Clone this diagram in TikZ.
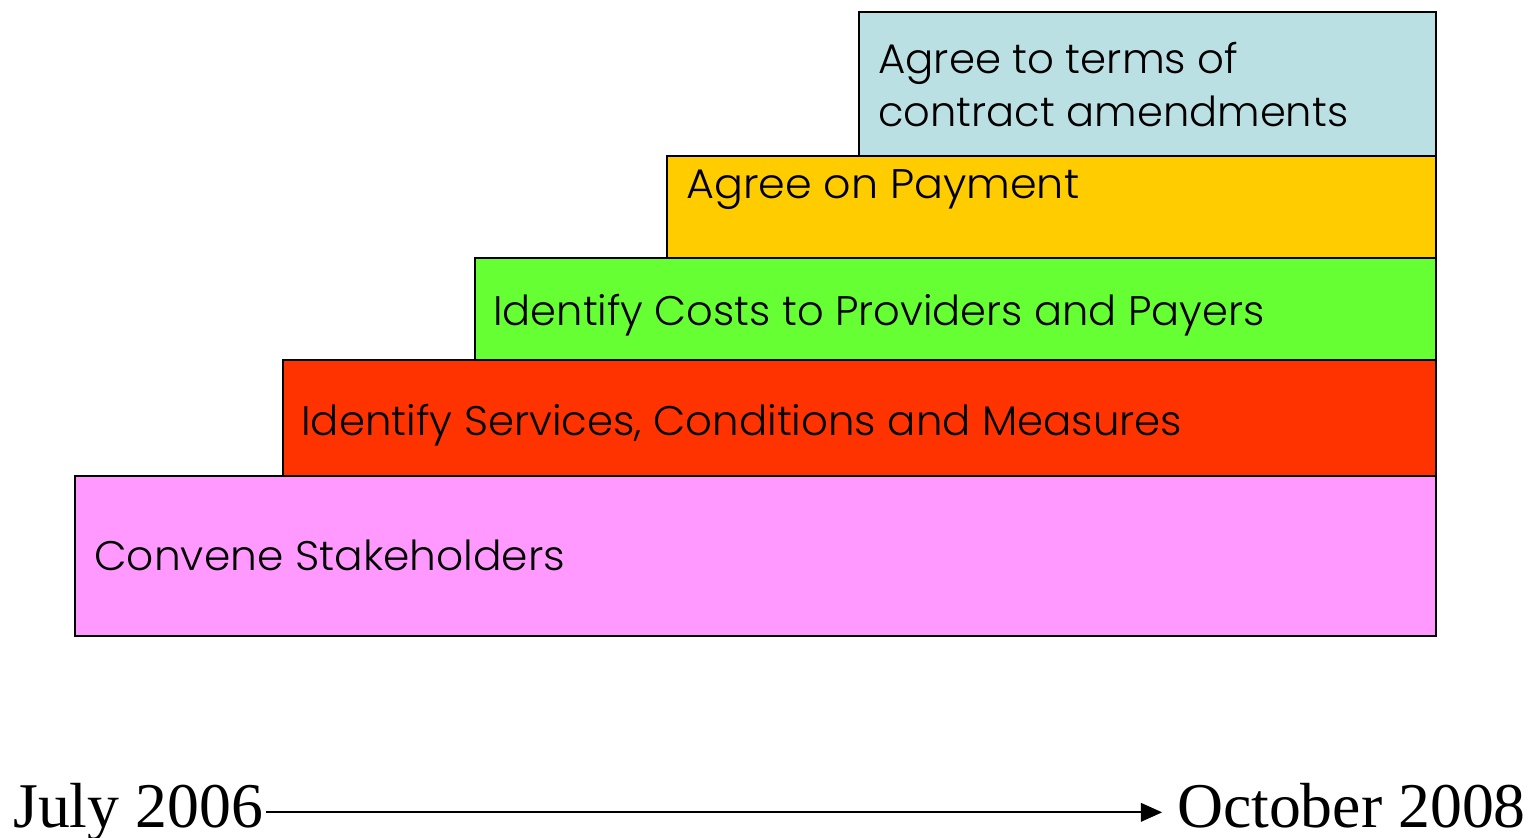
\documentclass[tikz,border=0pt]{standalone}
\usepackage{fontspec}
\usepackage{graphicx}
\setmainfont{Poppins Light}
\newfontfamily\serifdate{Liberation Serif}
\usetikzlibrary{arrows.meta}

% Stage colours
\definecolor{stageblue}{HTML}{BBE0E3}
\definecolor{stagegold}{HTML}{FFCC00}
\definecolor{stagegreen}{HTML}{66FF33}
\definecolor{stagered}{HTML}{FF3300}
\definecolor{stagepink}{HTML}{FF99FF}

% Stretch a label to a given width while keeping its height
\newcommand\fitlabel[2]{\resizebox{#1}{\height}{#2}}

\begin{document}
\begin{tikzpicture}[x=0.75pt,y=-0.75pt,
  stagebox/.style={draw=black,line width=1.4pt,rectangle,inner sep=0pt,anchor=north west},
  stagetext/.style={anchor=base west,inner sep=0pt,font=\fontsize{31}{36}\selectfont},
  datetext/.style={inner sep=0pt,font=\serifdate\fontsize{47.8}{54}\selectfont}]
  \useasboundingbox (0,0) rectangle (1528,838);

  % stacked stages, widest at the bottom
  \node[stagebox,fill=stagepink,minimum width=1020.75pt,minimum height=120pt] (convene) at (74,475) {};
  \node[stagebox,fill=stagered,minimum width=864.75pt,minimum height=87pt] (services) at (282,359) {};
  \node[stagebox,fill=stagegreen,minimum width=720.75pt,minimum height=76.5pt] (costs) at (474,257) {};
  \node[stagebox,fill=stagegold,minimum width=576.75pt,minimum height=76.5pt] (payment) at (666,155) {};
  \node[stagebox,fill=stageblue,minimum width=432.75pt,minimum height=108pt] (terms) at (858,11) {};

  % stage labels
  \node[stagetext] (termsA) at (878,74) {\fitlabel{270pt}{Agree to terms of}};
  \node[stagetext] (termsB) at (878,127) {\fitlabel{352.5pt}{contract amendments}};
  \node[stagetext] (paymentL) at (686,198) {\fitlabel{294.75pt}{Agree on Payment}};
  \node[stagetext] (costsL) at (493,325) {\fitlabel{578.25pt}{Identify Costs to Providers and Payers}};
  \node[stagetext] (servicesL) at (301,435) {\fitlabel{660.75pt}{Identify Services, Conditions and Measures}};
  \node[stagetext] (conveneL) at (94,570) {\fitlabel{353.25pt}{Convene Stakeholders}};

  % time axis
  \node[datetext,anchor=base west] (start) at (13,827) {July 2006};
  \node[datetext,anchor=base east] (finish) at (1526,827) {October 2008};
  \draw[line width=1.4pt,-{Triangle[length=16pt,width=14pt]},shorten <=2pt,shorten >=11pt]
    ([yshift=11pt]start.base east) -- ([yshift=11pt]finish.base west);
\end{tikzpicture}
\end{document}
